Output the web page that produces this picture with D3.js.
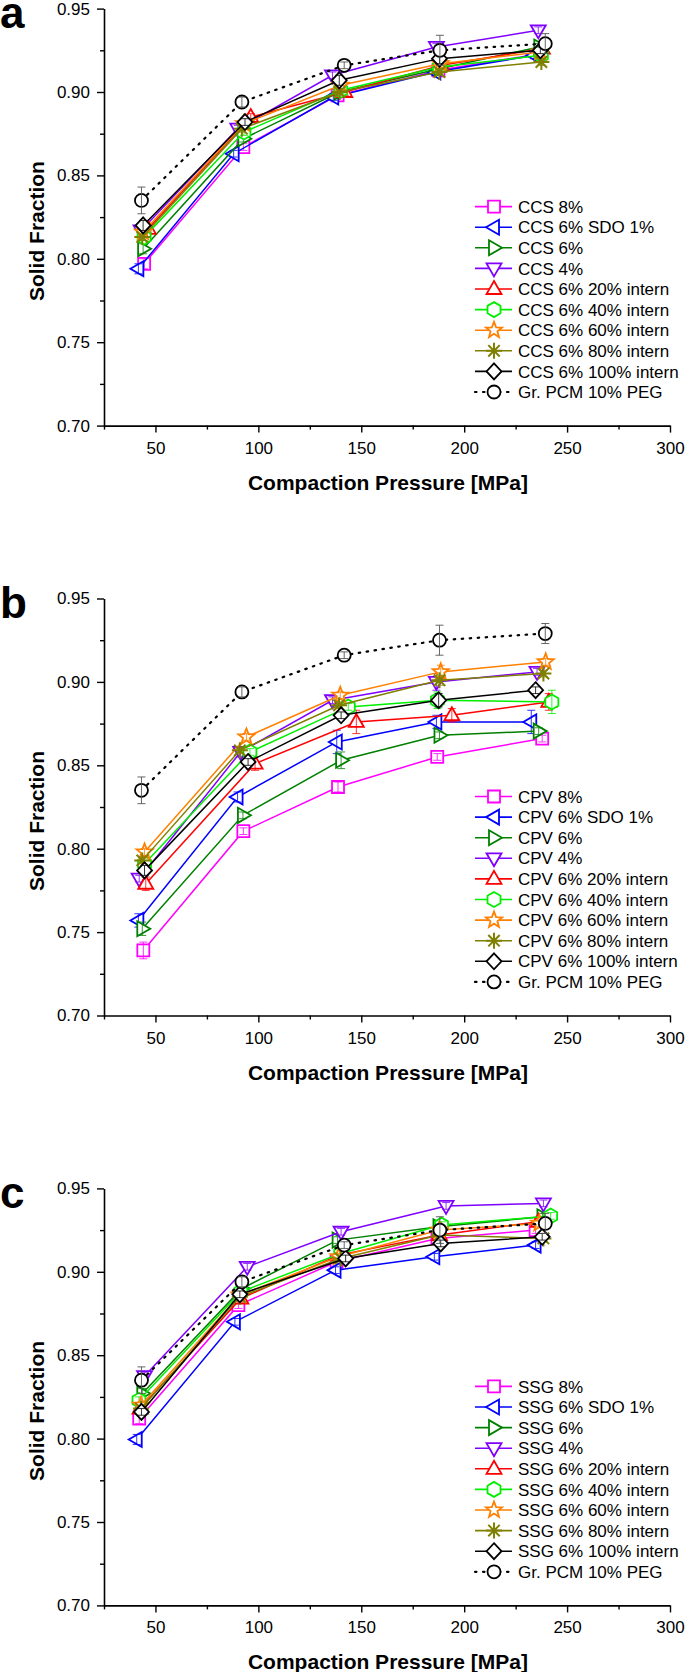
<!DOCTYPE html>
<html><head><meta charset="utf-8">
<script src="https://cdn.jsdelivr.net/npm/d3@7"></script>
<style>
body{margin:0;background:#fff}
svg{display:block}
text{font-family:"Liberation Sans",Arial,Helvetica,sans-serif}
</style>
</head><body>
<svg id="chart" width="685" height="1672"></svg>
<script>
// ---------------- data ----------------
const panelLetters = ["a", "b", "c"];
const materials = ["CCS", "CPV", "SSG"];
const seriesSuffixes = ["8%", "6% SDO 1%", "6%", "4%", "6% 20% intern", "6% 40% intern",
  "6% 60% intern", "6% 80% intern", "6% 100% intern"];
const referenceLabel = "Gr. PCM 10% PEG";
const xTicks = [50, 100, 150, 200, 250, 300];
const xMinorTicks = [25, 75, 125, 175, 225, 275];
const yTicks = [0.70, 0.75, 0.80, 0.85, 0.90, 0.95];
const yMinorTicks = [0.725, 0.775, 0.825, 0.875, 0.925];
const seriesColors = ["#ff00ff", "#0000ff", "#008000", "#8000ff", "#ff0000", "#00ee00",
  "#ff8000", "#808000", "#000000", "#000000"];
const seriesShapes = ["square", "triLeft", "triRight", "triDown", "triUp", "hexagon",
  "star", "asterisk", "diamond", "circle"];

// Panel a (CCS): compaction pressure [MPa] and solid fraction per series (last = Gr. PCM 10% PEG)
const ccsX = [
  [44.5, 92.7, 138.5, 187.5, 237], [41.7, 88, 136.4, 186, 234], [44, 92.7, 139.5, 188, 236.5],
  [43, 90, 136, 186.5, 236], [46.5, 96.3, 142, 189, 238], [44.5, 93, 140, 188, 237.5],
  [44, 93, 140, 188.5, 237], [43.6, 92, 139.5, 188, 237.5], [44, 93.5, 139.3, 188, 237],
  [43.2, 92, 141.7, 188.2, 239.4]];
const ccsY = [
  [0.797, 0.867, 0.898, 0.913, 0.923], [0.794, 0.863, 0.897, 0.912, 0.922], [0.806, 0.872, 0.900, 0.914, 0.927],
  [0.817, 0.878, 0.910, 0.927, 0.937], [0.818, 0.885, 0.900, 0.916, 0.926], [0.813, 0.876, 0.901, 0.915, 0.922],
  [0.816, 0.881, 0.904, 0.917, 0.924], [0.813, 0.878, 0.900, 0.912, 0.918], [0.820, 0.882, 0.907, 0.920, 0.925],
  [0.835, 0.894, 0.916, 0.925, 0.929]];
const ccsErr = [
  [0.003, 0.002, 0.002, 0.002, 0.002], [0.003, 0.002, 0.002, 0.002, 0.002], [0.003, 0.002, 0.002, 0.002, 0.002],
  [0.002, 0.002, 0.002, 0.002, 0.002], [0.002, 0.002, 0.002, 0.002, 0.002], [0.002, 0.002, 0.002, 0.002, 0.002],
  [0.002, 0.002, 0.002, 0.002, 0.002], [0.002, 0.002, 0.002, 0.002, 0.002], [0.003, 0.002, 0.003, 0.003, 0.002],
  [0.008, 0.003, 0.002, 0.009, 0.006]];

// Panel b (CPV)
const cpvX = [
  [44.1, 92.7, 138.7, 186.9, 237.9], [41.7, 89.9, 138.1, 186.5, 232.6], [43.6, 92.5, 140.2, 188, 236.2],
  [42.1, 91.4, 136, 186.5, 235.4], [45.3, 98.4, 147.6, 194, 241.1], [44.7, 95.9, 143.7, 187, 242.6],
  [44.7, 94.2, 139.8, 188.6, 239.6], [43.6, 91, 139.2, 188, 238.5], [44.7, 95, 140.2, 187.6, 234.7],
  [43.2, 92, 141.7, 188, 239.4]];
const cpvY = [
  [0.739, 0.8105, 0.837, 0.855, 0.866], [0.757, 0.831, 0.864, 0.876, 0.876], [0.752, 0.820, 0.853, 0.868, 0.8705],
  [0.782, 0.858, 0.889, 0.900, 0.906], [0.779, 0.851, 0.876, 0.880, 0.888], [0.791, 0.858, 0.885, 0.889, 0.888],
  [0.798, 0.867, 0.892, 0.906, 0.912], [0.793, 0.859, 0.886, 0.901, 0.905], [0.787, 0.852, 0.880, 0.889, 0.895],
  [0.835, 0.894, 0.916, 0.925, 0.929]];
const cpvErr = [
  [0.005, 0.002, 0.003, 0.002, 0.002], [0.004, 0.003, 0.007, 0.004, 0.007], [0.004, 0.002, 0.005, 0.002, 0.002],
  [0.002, 0.003, 0.002, 0.005, 0.002], [0.004, 0.004, 0.007, 0.004, 0.005], [0.002, 0.002, 0.002, 0.005, 0.007],
  [0.002, 0.002, 0.002, 0.004, 0.002], [0.002, 0.002, 0.002, 0.003, 0.002], [0.003, 0.002, 0.002, 0.004, 0.002],
  [0.008, 0.003, 0.002, 0.009, 0.006]];

// Panel c (SSG)
const ssgX = [
  [42.1, 90.3, 138, 187, 234.7], [40.9, 88.6, 137.5, 185.5, 234.7], [43.6, 92, 138.5, 187.5, 238],
  [44.7, 94.6, 140.2, 191.2, 238.5], [42.5, 91.5, 139, 188, 236], [42, 91.5, 140, 189, 242],
  [43, 91, 139, 188, 236.5], [43, 91, 140, 188, 238.5], [43.2, 91, 142.4, 188.6, 237.9],
  [43.2, 92, 141.7, 188.2, 239.4]];
const ssgY = [
  [0.812, 0.880, 0.906, 0.920, 0.925], [0.7995, 0.870, 0.901, 0.909, 0.916], [0.827, 0.890, 0.919, 0.927, 0.933],
  [0.8375, 0.903, 0.924, 0.9395, 0.941], [0.818, 0.884, 0.910, 0.922, 0.930], [0.823, 0.888, 0.911, 0.928, 0.9335],
  [0.820, 0.886, 0.909, 0.925, 0.929], [0.818, 0.885, 0.908, 0.922, 0.920], [0.816, 0.8865, 0.908, 0.917, 0.921],
  [0.835, 0.894, 0.916, 0.925, 0.929]];
const ssgErr = [
  [0.003, 0.002, 0.002, 0.002, 0.002], [0.003, 0.002, 0.002, 0.002, 0.002], [0.003, 0.002, 0.002, 0.002, 0.002],
  [0.002, 0.002, 0.002, 0.002, 0.002], [0.002, 0.002, 0.002, 0.002, 0.002], [0.002, 0.002, 0.002, 0.002, 0.002],
  [0.002, 0.002, 0.002, 0.002, 0.002], [0.002, 0.002, 0.002, 0.002, 0.002], [0.002, 0.002, 0.002, 0.002, 0.002],
  [0.008, 0.003, 0.002, 0.008, 0.006]];

const panelX = [ccsX, cpvX, ssgX];
const panelY = [ccsY, cpvY, ssgY];
const panelErr = [ccsErr, cpvErr, ssgErr];

// ---------------- layout ----------------
const plotLeft = 104, plotRight = 670, plotH = 417;
const panelTops = [8.6, 598.5, 1188.4];

const svg = d3.select("#chart");

function shapePath(shape) {
  switch (shape) {
    case "square": return "M-6,-6H6V6H-6Z";
    case "triUp": return "M0,-8L7.5,5L-7.5,5Z";
    case "triDown": return "M0,8L7.5,-5L-7.5,-5Z";
    case "triLeft": return "M-8,0L5,-7.5L5,7.5Z";
    case "triRight": return "M8,0L-5,-7.5L-5,7.5Z";
    case "diamond": return "M0,-8L7.5,0L0,8L-7.5,0Z";
    case "hexagon": {
      const pts = d3.range(6).map(k => {
        const a = (-90 + 60 * k) * Math.PI / 180;
        return [7.5 * Math.cos(a), 7.5 * Math.sin(a)];
      });
      return "M" + pts.map(p => p.join(",")).join("L") + "Z";
    }
    case "star": {
      const pts = d3.range(10).map(k => {
        const r = k % 2 === 0 ? 8.5 : 3.6;
        const a = (-90 + 36 * k) * Math.PI / 180;
        return [r * Math.cos(a), r * Math.sin(a)];
      });
      return "M" + pts.map(p => p.join(",")).join("L") + "Z";
    }
    case "asterisk": return "M0,-8V8M-8,0H8M-5.7,-5.7L5.7,5.7M-5.7,5.7L5.7,-5.7";
    case "circle": return d3.symbol().type(d3.symbolCircle).size(Math.PI * 6.5 * 6.5)();
  }
}

function drawMarker(g, shape, color, x, y) {
  const p = g.append("path").attr("d", shapePath(shape))
    .attr("transform", `translate(${x},${y})`)
    .attr("stroke", color)
    .attr("stroke-width", shape === "asterisk" ? 2 : 1.8)
    .attr("fill", shape === "asterisk" ? "none" : "#fff")
    .attr("stroke-linejoin", "miter");
  return p;
}

panelTops.forEach((top, pi) => {
  const bottom = top + plotH;
  const x = d3.scaleLinear().domain([25, 300]).range([plotLeft, plotRight]);
  const y = d3.scaleLinear().domain([0.70, 0.95]).range([bottom, top]);
  const g = svg.append("g");

  // axes
  const xAxis = g.append("g").attr("transform", `translate(0,${bottom})`)
    .call(d3.axisBottom(x).tickValues(xTicks).tickFormat(d3.format("d")).tickSize(7).tickPadding(9).tickSizeOuter(0));
  g.append("g").attr("transform", `translate(0,${bottom})`)
    .call(d3.axisBottom(x).tickValues(xMinorTicks).tickFormat("").tickSize(4).tickSizeOuter(0))
    .select(".domain").remove();
  const yAxis = g.append("g").attr("transform", `translate(${plotLeft},0)`)
    .call(d3.axisLeft(y).tickValues(yTicks).tickFormat(d3.format(".2f")).tickSize(7).tickPadding(7).tickSizeOuter(0));
  g.append("g").attr("transform", `translate(${plotLeft},0)`)
    .call(d3.axisLeft(y).tickValues(yMinorTicks).tickFormat("").tickSize(4).tickSizeOuter(0))
    .select(".domain").remove();
  g.selectAll(".domain").attr("stroke", "#000").attr("stroke-width", 1.6);
  g.selectAll(".tick line").attr("stroke", "#000").attr("stroke-width", 1.4);
  g.selectAll(".tick text").attr("font-size", 17).attr("fill", "#000")
    .attr("font-family", "'Liberation Sans', Arial, sans-serif");

  // axis titles
  g.append("text").attr("x", (plotLeft + plotRight) / 2 + 1).attr("y", bottom + 64)
    .attr("text-anchor", "middle").attr("font-size", 21).attr("font-weight", "bold")
    .text("Compaction Pressure [MPa]");
  g.append("text").attr("transform", `translate(44,${(top + bottom) / 2 + 14}) rotate(-90)`)
    .attr("text-anchor", "middle").attr("font-size", 21).attr("font-weight", "bold")
    .text("Solid Fraction");

  // panel letter
  g.append("text").attr("x", 0).attr("y", top + 19.5)
    .attr("font-size", 44).attr("font-weight", "bold").text(panelLetters[pi]);

  // series
  const xs = panelX[pi], ys = panelY[pi], es = panelErr[pi];
  const line = d3.line().x(d => x(d[0])).y(d => y(d[1]));
  xs.forEach((sx, si) => {
    const pts = sx.map((v, k) => [v, ys[si][k], es[si][k]]);
    const color = seriesColors[si];
    const isRef = si === 9;
    const sg = g.append("g");
    sg.append("path").datum(pts).attr("d", line).attr("fill", "none")
      .attr("stroke", color).attr("stroke-width", isRef ? 2.2 : 1.5)
      .attr("stroke-dasharray", isRef ? "1.5,6.5" : null)
      .attr("stroke-linecap", isRef ? "round" : "butt");
    pts.forEach(p => drawMarker(sg, seriesShapes[si], color, x(p[0]), y(p[1])));
    // error bars
    const ecol = isRef ? "#555" : color;
    pts.forEach(p => {
      const cx = x(p[0]), y1 = y(p[1] + p[2]), y2 = y(p[1] - p[2]);
      sg.append("path").attr("d", `M${cx},${y1}V${y2}M${cx - 4},${y1}H${cx + 4}M${cx - 4},${y2}H${cx + 4}`)
        .attr("stroke", ecol).attr("stroke-width", 1).attr("fill", "none").attr("opacity", isRef ? 0.9 : 0.8);
    });
  });

  // legend
  const legendNames = seriesSuffixes.map(s => materials[pi] + " " + s).concat([referenceLabel]);
  legendNames.forEach((name, si) => {
    const ly = top + 198 + si * 20.6;
    const lg = g.append("g");
    const isRef = si === 9;
    lg.append("line").attr("x1", 475).attr("x2", 512).attr("y1", ly).attr("y2", ly)
      .attr("stroke", seriesColors[si]).attr("stroke-width", isRef ? 2.2 : 1.6)
      .attr("stroke-dasharray", isRef ? "1.5,6.5" : null)
      .attr("stroke-linecap", isRef ? "round" : "butt");
    drawMarker(lg, seriesShapes[si], seriesColors[si], 494, ly);
    lg.append("text").attr("x", 518).attr("y", ly).attr("dy", "0.36em")
      .attr("font-size", 17).attr("fill", "#000").text(name);
  });
});
</script>
</body></html>
